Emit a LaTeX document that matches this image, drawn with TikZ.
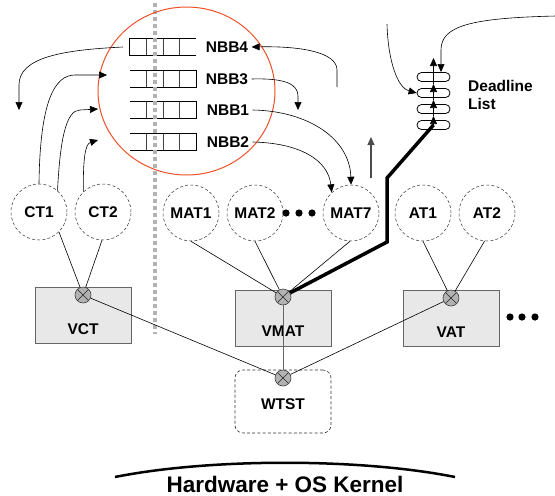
\documentclass[tikz,border=0pt]{standalone}
\usepackage{fontspec}
\setmainfont{Liberation Sans}
\usetikzlibrary{arrows.meta,calc,shapes.geometric}
\definecolor{ringred}{RGB}{240,80,40}
\begin{document}
\begin{tikzpicture}[x=1pt,y=-1pt,
  lbl/.style={font=\fontsize{15.5}{18}\selectfont\bfseries},
  thread/.style={circle,draw=black!80,dash pattern=on 3pt off 2.2pt,line width=0.5pt,minimum size=56pt,inner sep=0pt,lbl},
  vbox/.style={draw=black!60,line width=0.8pt,fill=black!9,minimum width=96pt,minimum height=56pt,inner sep=0pt},
  xc/.style={circle,draw=black!75,line width=0.6pt,fill=black!30,minimum size=16pt,inner sep=0pt,
    path picture={\draw[black!85,line width=0.6pt] (path picture bounding box.north west)--(path picture bounding box.south east) (path picture bounding box.north east)--(path picture bounding box.south west);}},
  conn/.style={line width=0.6pt},
  arr/.style={-{Triangle[length=8pt,width=7pt]},line width=0.6pt},
  pill/.style={draw,line width=0.8pt,rounded corners=4.5pt,minimum width=33pt,minimum height=9pt,inner sep=0pt},
  cell/.style={line width=0.7pt},
  bigdot/.style={fill=black},
]
\useasboundingbox (0,0) rectangle (555,496);

% buffers (NBB rows)
\node[minimum width=66pt,minimum height=16pt,inner sep=0pt] (r4) at (163,47) {};
\node[minimum width=66pt,minimum height=16pt,inner sep=0pt] (r3) at (163,79) {};
\node[minimum width=66pt,minimum height=16pt,inner sep=0pt] (r1) at (163,110) {};
\node[minimum width=66pt,minimum height=16pt,inner sep=0pt] (r2) at (163,142) {};
\draw[cell] (r4.north east) -- (r4.north west) -- (r4.south west) -- (r4.south east);
\foreach \r in {r3,r1,r2}{\draw[cell] (\r.north west) -- (\r.north east) -- (\r.south east) -- (\r.south west);}
\foreach \r in {r4,r3,r1,r2}{
  \foreach \f in {0.25,0.5,0.75}{\draw[cell,black!75] ($(\r.north west)!\f!(\r.north east)$) -- ($(\r.south west)!\f!(\r.south east)$);}
}
\node[lbl] (nbb4) at (227,47) {NBB4};
\node[lbl] (nbb3) at (227,79) {NBB3};
\node[lbl] (nbb1) at (228,110) {NBB1};
\node[lbl] (nbb2) at (228,142) {NBB2};

% gray dotted divider
\coordinate (dtop) at (155,3);
\coordinate (dbot) at (155,334);
\draw[black!30,line width=3.5pt,dash pattern=on 4pt off 3pt] (dtop) -- (dbot);

% red ring
\node[draw=ringred,line width=1pt,ellipse,minimum width=177pt,minimum height=168pt,inner sep=0pt] (ring) at (186.5,91) {};

% threads
\node[thread] (ct1) at (39,212) {CT1};
\node[thread] (ct2) at (103,212) {CT2};
\node[thread] (mat1) at (191,213) {MAT1};
\node[thread] (mat2) at (255,213) {MAT2};
\node[thread] (mat7) at (351,213) {MAT7};
\node[thread] (at1) at (423,213) {AT1};
\node[thread] (at2) at (487,213) {AT2};
\fill[bigdot] (286,213) circle (3.6pt) (299,213) circle (3.6pt) (312,213) circle (3.6pt);

% virtual boxes
\node[vbox] (vct) at (83,315) {};
\node[vbox] (vmat) at (283,318) {};
\node[vbox] (vat) at (451,318) {};
\node[lbl] (vctl) at (83,329) {VCT};
\node[lbl] (vmatl) at (283,331) {VMAT};
\node[lbl] (vatl) at (451,332) {VAT};
\node[draw=black!80,line width=0.6pt,dash pattern=on 3pt off 2.2pt,rounded corners=8pt,minimum width=96pt,minimum height=63pt,inner sep=0pt] (wtst) at (283,401.5) {};
\node[lbl] (wtstl) at (283,404) {WTST};
\fill[bigdot] (510,317) circle (3.6pt) (522,317) circle (3.6pt) (535,317) circle (3.6pt);

% crossed circles
\node[xc] (xv) at (83,295) {};
\node[xc] (xm) at (283,297) {};
\node[xc] (xa) at (451,298) {};
\node[xc] (xw) at (283,378) {};

% thread connections
\draw[conn] (ct1.-45) -- (xv);
\draw[conn] (ct2.-92) -- (xv);
\draw[conn] (mat1.south) -- (xm);
\draw[conn] (mat2.south) -- (xm);
\draw[conn] (mat7.-92) -- (xm);
\draw[conn] (at1.south) -- (xa);
\draw[conn] (at2.-95) -- (xa);
\draw[conn] (xv) -- (xw);
\draw[conn] (xa) -- (xw);
\draw[black!60,line width=1pt] (xm) -- (xw);

% deadline list
\node[pill] (p1) at (433.5,77) {};
\node[pill] (p2) at (433.5,93) {};
\node[pill] (p3) at (433.5,109) {};
\node[pill] (p4) at (433.5,125) {};
\coordinate (dtip) at (433.5,58);
\draw[arr] (p4.center) -- (433.5,116);
\draw[arr] (433.5,116) -- (433.5,100);
\draw[arr] (433.5,100) -- (433.5,84);
\draw[arr] (433.5,84) -- (dtip);
\node[lbl,align=left,anchor=north west,inner sep=0pt] (dl) at (468,80) {Deadline\\List};

% thick path from VMAT to deadline list
\coordinate (k1) at (387,242);
\coordinate (k2) at (387,178);
\draw[line width=3.5pt,line join=miter] (xm.30) -- (k1) -- (k2) -- (p4.center);

% incoming arrows to deadline list
\coordinate (in1) at (556,16);
\draw[arr] (in1) .. controls (470,18) and (441,26) .. (441,50) -- (441,72);
\coordinate (in2) at (387,24);
\draw[arr] (in2) .. controls (388,62) and (398,88) .. (p2.west);

% up arrow
\coordinate (ua) at (371,178);
\coordinate (ub) at (371,137);
\draw[-{Triangle[length=8pt,width=7pt]},black!70,line width=1.2pt] (ua) -- (ub);

% NBB arrows
\coordinate (n4s) at (337,87);
\draw[arr] (n4s) -- (337,70) .. controls (337,52) and (300,46) .. (nbb4.east);
\draw[arr] (nbb3.east) .. controls (285,78) and (298,84) .. (298,96) -- (298,110);
\draw[arr] (nbb1.east) .. controls (310,111) and (350,140) .. (mat7.north);
\draw[arr] (nbb2.east) .. controls (300,143) and (328,160) .. (mat7.133);

% NBB4 out to left
\coordinate (lt) at (19,110);
\draw[arr] (123,47) .. controls (60,50) and (19,58) .. (19,85) -- (lt);

% CT arrows into ring
\coordinate (a1) at (107,75);
\coordinate (a2) at (98,109);
\coordinate (a3) at (98,140);
\draw[arr] (ct1.north) .. controls (40,100) and (55,75) .. (75,75) -- (a1);
\draw[arr] (ct1.49) .. controls (60,140) and (66,110) .. (80,110) -- (a2);
\draw[arr] (ct2.134) .. controls (83,160) and (85,144) .. (a3);

% kernel
\coordinate (hl) at (115,477);
\coordinate (hr) at (455,477);
\draw[line width=2.5pt] (hl) .. controls (210,458) and (360,458) .. (hr);
\node[font=\fontsize{22.5}{26}\selectfont\bfseries,anchor=base] (hw) at (285,492) {Hardware + OS Kernel};
\end{tikzpicture}
\end{document}
